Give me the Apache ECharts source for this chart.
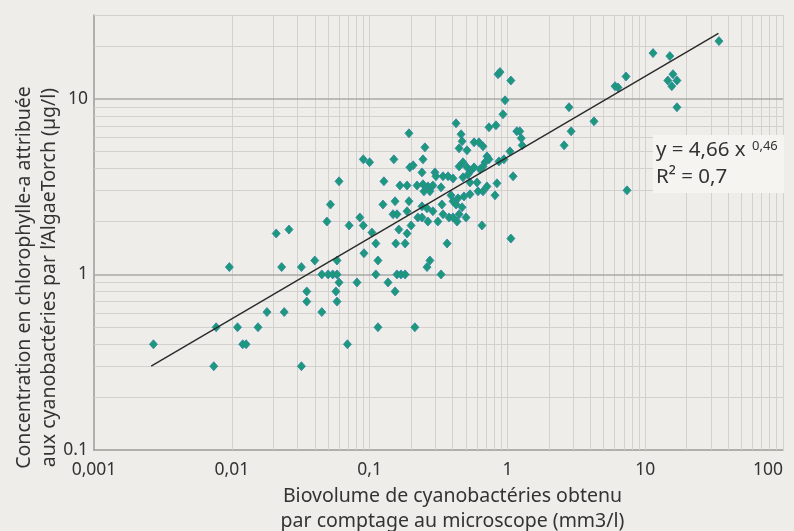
<!DOCTYPE html>
<html>
<head>
<meta charset="utf-8">
<script src="https://cdn.jsdelivr.net/npm/echarts@6/dist/echarts.min.js"></script>
<style>
  html, body { margin: 0; padding: 0; background: #eeede9; }
  #chart { width: 794px; height: 531px; }
</style>
</head>
<body>
<div id="chart"></div>
<script>
// biovolume (mm3/l)
var biovolume = [
    0.0027, 0.0074, 0.0077, 0.0096, 0.011, 0.012, 0.0127, 0.0155, 0.018, 0.021,
    0.026, 0.023, 0.024, 0.032, 0.032, 0.035, 0.035, 0.040, 0.045, 0.045,
    0.050, 0.054, 0.058, 0.049, 0.052, 0.060, 0.058, 0.057, 0.058, 0.060,
    0.069, 0.071, 0.081, 0.085, 0.090, 0.090, 0.10, 0.104, 0.111, 0.091,
    0.115, 0.111, 0.115, 0.127, 0.150, 0.125, 0.153, 0.136, 0.153, 0.148,
    0.158, 0.163, 0.155, 0.181, 0.158, 0.169, 0.181, 0.193, 0.196, 0.207,
    0.166, 0.187, 0.221, 0.193, 0.187, 0.224, 0.200, 0.187, 0.261, 0.274,
    0.213, 0.330,
    0.424, 0.461, 0.469, 0.446, 0.509, 0.735, 0.826, 0.929, 0.961, 0.855,
    0.884, 1.06, 1.17, 1.23, 1.26, 1.28, 0.573, 0.622, 0.665, 0.252,
    1.044, 0.711, 0.735, 0.688, 0.869, 0.944, 0.476, 0.446, 0.509, 0.665,
    0.633, 0.545, 0.298, 0.303, 0.341, 0.371, 0.403, 0.240, 0.244, 0.244,
    0.265, 0.288, 0.248, 0.274, 0.330, 0.476, 0.518, 0.535, 0.602, 0.840,
    1.10, 0.612, 0.665, 0.711, 0.813, 0.390, 0.484, 0.535, 0.438, 0.240,
    0.261, 0.288, 0.335, 0.403, 0.424, 0.469, 0.341, 0.377, 0.403, 0.446,
    0.431, 0.501, 0.240, 0.265, 0.313, 0.654, 0.365, 1.06, 0.573,
    2.80, 2.90, 2.58, 4.25, 7.38, 6.04, 6.35, 7.26, 11.4, 15.1,
    14.6, 15.9, 17.0, 15.6, 17.0, 34.3
];

// chlorophylle-a (µg/l)
var chlorophylle = [
    0.40, 0.30, 0.50, 1.10, 0.50, 0.40, 0.40, 0.50, 0.61, 1.71,
    1.80, 1.10, 0.61, 1.10, 0.30, 0.80, 0.70, 1.20, 0.61, 1.00,
    1.00, 1.00, 1.00, 2.00, 2.50, 3.39, 1.20, 0.80, 0.70, 0.90,
    0.40, 1.90, 0.90, 2.11, 1.90, 4.52, 4.35, 1.73, 1.50, 1.32,
    1.20, 1.00, 0.50, 3.39, 4.52, 2.50, 2.61, 0.90, 0.80, 2.20,
    2.20, 1.80, 1.50, 1.50, 1.00, 1.00, 1.00, 6.36, 4.07, 4.18,
    3.21, 3.21, 3.21, 2.61, 2.29, 2.11, 1.90, 1.71, 1.10, 1.20,
    0.50, 1.00,
    7.25, 6.28, 5.73, 5.22, 5.09, 6.88, 7.06, 8.16, 9.80, 13.8,
    14.2, 12.7, 6.53, 6.53, 5.96, 5.43, 5.65, 5.65, 5.36, 5.29,
    5.02, 4.70, 4.52, 4.35, 4.40, 4.52, 4.35, 4.12, 4.07, 4.12,
    3.97, 3.91, 3.81, 3.62, 3.62, 3.62, 3.52, 3.81, 4.52, 3.26,
    3.17, 3.21, 2.97, 2.97, 3.13, 3.57, 3.71, 3.34, 3.34, 3.30,
    3.62, 2.97, 2.97, 3.17, 2.82, 2.82, 2.78, 2.86, 2.71, 2.44,
    2.38, 2.29, 2.50, 2.61, 2.50, 2.41, 2.20, 2.11, 2.11, 2.20,
    2.00, 2.11, 2.11, 2.00, 2.00, 1.90, 1.50, 1.60, 4.07,
    8.95, 6.53, 5.43, 7.44, 3.01, 11.8, 11.6, 13.4, 18.2, 17.5,
    12.7, 13.8, 12.7, 11.8, 8.95, 21.3
];

// courbe de tendance (puissance), extrémités
var tendance = [[0.0026, 0.3], [34, 23.6]];

// lignes de quadrillage
var grilleX = [0.002, 0.003, 0.004, 0.005, 0.006, 0.007, 0.008, 0.009, 0.01,
    0.02, 0.03, 0.04, 0.05, 0.06, 0.07, 0.08, 0.09, 0.1,
    0.2, 0.3, 0.4, 0.5, 0.6, 0.7, 0.8, 0.9, 1,
    2, 3, 4, 5, 6, 7, 8, 9, 10,
    20, 30, 40, 50, 60, 70, 80, 90, 100];
var grilleY = [0.2, 0.3, 0.4, 0.5, 0.6, 0.7, 0.8, 0.9,
    2, 3, 4, 5, 6, 7, 8, 9, 20, 30];
var grilleYMajeure = [1, 10];

var myChart = echarts.init(document.getElementById('chart'));

var points = [];
for (let i = 0; i < biovolume.length; i++) {
    points.push([biovolume[i], chlorophylle[i]]);
}

function lignes(valeurs, axe) {
    return valeurs.map(function (v) {
        let d = {};
        d[axe] = v;
        return d;
    });
}

function formatNombre(v) {
    return String(parseFloat(v.toPrecision(3))).replace('.', ',');
}

var police = 'Noto Sans';

var option = {
    backgroundColor: '#eeede9',
    animation: false,
    textStyle: { fontFamily: police },
    grid: { left: 94, right: 11, top: 15, bottom: 81, outerBoundsMode: 'none' },
    xAxis: {
        type: 'log',
        logBase: 10,
        min: 0.001,
        max: 100,
        name: 'Biovolume de cyanobactéries obtenu\npar comptage au microscope (mm3/l)',
        nameLocation: 'middle',
        nameGap: 33,
        nameTextStyle: {
            fontSize: 19.5, lineHeight: 25, color: '#333', fontFamily: police,
            padding: [0, 0, 0, 28]
        },
        axisLine: { lineStyle: { color: '#9a9a98', width: 1.5 } },
        axisTick: { show: false },
        splitLine: { show: false },
        axisLabel: {
            margin: 11,
            fontSize: 17.5,
            color: '#333',
            fontFamily: police,
            alignMaxLabel: 'right',
            formatter: function (v) { return formatNombre(v); }
        }
    },
    yAxis: {
        type: 'log',
        logBase: 10,
        min: 0.1,
        max: 30,
        name: 'Concentration en chlorophylle-a attribuée\naux cyanobactéries par l\u2019AlgaeTorch (µg/l)',
        nameLocation: 'middle',
        nameGap: 32,
        nameMoveOverlap: false,
        nameTextStyle: {
            fontSize: 19.5, lineHeight: 25, color: '#333', fontFamily: police,
            padding: [0, 90, 0, 0]
        },
        axisLine: { lineStyle: { color: '#9a9a98', width: 1.5 } },
        axisTick: { show: false },
        splitLine: { show: false },
        axisLabel: {
            margin: 6,
            fontSize: 17.5,
            color: '#333',
            fontFamily: police,
            formatter: function (v) {
                let n = parseFloat(v.toPrecision(3));
                if (n === 0.1 || n === 1 || n === 10) return String(n);
                return '';
            }
        }
    },
    series: [
        {
            // quadrillage
            type: 'scatter',
            data: [],
            silent: true,
            z: 1,
            markLine: {
                z: 1,
                silent: true,
                symbol: 'none',
                label: { show: false },
                animation: false,
                lineStyle: { color: '#d2d1cd', width: 1, type: 'solid' },
                data: lignes(grilleX, 'xAxis').concat(lignes(grilleY, 'yAxis'))
            }
        },
        {
            type: 'scatter',
            data: [],
            silent: true,
            z: 1,
            markLine: {
                z: 1,
                silent: true,
                symbol: 'none',
                label: { show: false },
                animation: false,
                lineStyle: { color: '#a9a8a5', width: 1.5, type: 'solid' },
                data: lignes(grilleYMajeure, 'yAxis')
            }
        },
        {
            type: 'scatter',
            data: points,
            symbol: 'diamond',
            symbolSize: [8, 9],
            z: 3,
            emphasis: { disabled: true },
            itemStyle: { color: '#1b9a78', borderColor: '#2f7fae', borderWidth: 0.8, opacity: 1 }
        },
        {
            type: 'line',
            data: tendance,
            symbol: 'none',
            z: 4,
            silent: true,
            emphasis: { disabled: true },
            lineStyle: { color: '#2a2a2a', width: 1.4, type: 'solid' }
        }
    ],
    graphic: [
        {
            type: 'rect',
            left: 653,
            top: 135,
            shape: { width: 131, height: 58 },
            style: { fill: '#f5f4f1' },
            z: 10
        },
        {
            type: 'text',
            left: 656,
            top: 140,
            z: 11,
            style: {
                text: 'y = 4,66 x',
                fontSize: 20.5,
                fontFamily: police,
                fill: '#333'
            }
        },
        {
            type: 'text',
            left: 752,
            top: 140,
            z: 11,
            style: {
                text: '0,46',
                fontSize: 13,
                fontFamily: police,
                fill: '#333'
            }
        },
        {
            type: 'text',
            left: 656,
            top: 167,
            z: 11,
            style: {
                text: 'R² = 0,7',
                fontSize: 20.5,
                fontFamily: police,
                fill: '#333'
            }
        }
    ]
};

myChart.setOption(option);
</script>
</body>
</html>
